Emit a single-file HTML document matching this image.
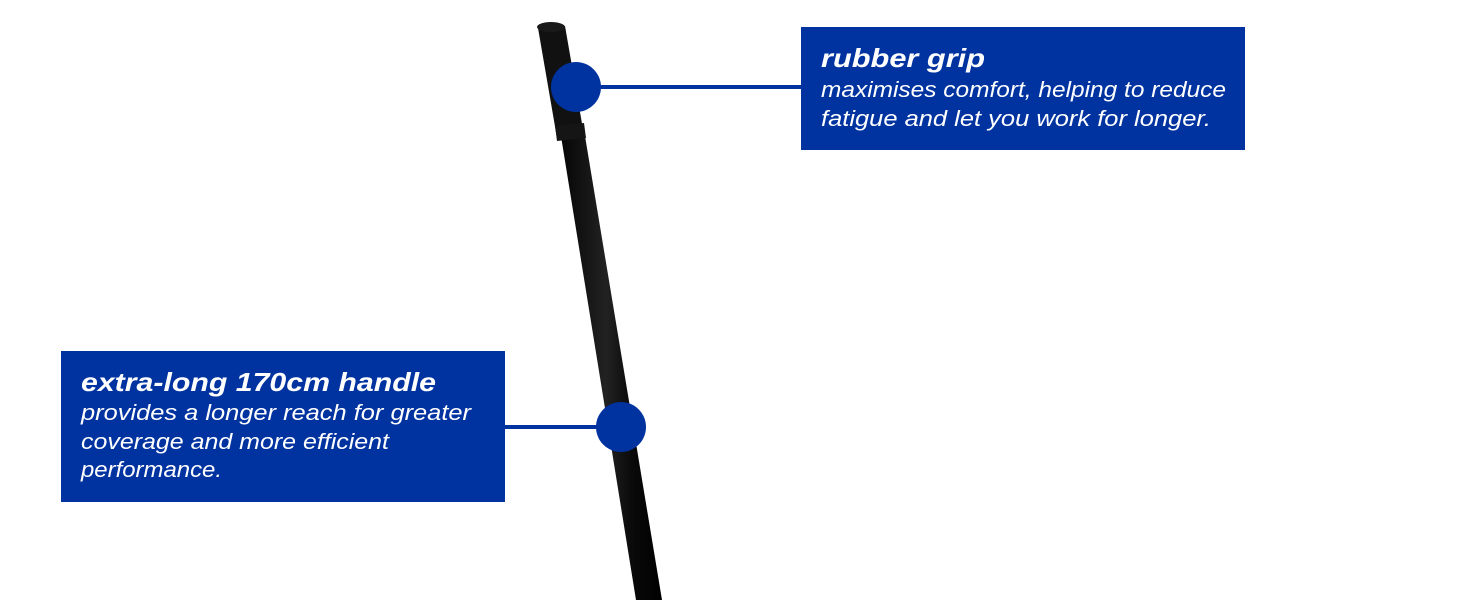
<!DOCTYPE html>
<html><head><style>html,body{margin:0;padding:0;background:#fff;}svg{display:block}</style></head>
<body>
<svg width="1464" height="600" viewBox="0 0 1464 600" xmlns="http://www.w3.org/2000/svg">
<defs>
<linearGradient id="pg" x1="0" x2="1" y1="0" y2="0">
<stop offset="0" stop-color="#050505"/><stop offset="0.45" stop-color="#222"/><stop offset="0.7" stop-color="#0a0a0a"/><stop offset="1" stop-color="#000"/>
</linearGradient>
</defs>
<!-- pole -->
<polygon points="560,130 584,130 662,600 636,600" fill="url(#pg)"/>
<!-- grip -->
<polygon points="538,28 565,26 584,135 557,138" fill="#111"/>
<ellipse cx="551" cy="27" rx="14" ry="5" fill="#1a1a1a"/>
<polygon points="555,126 584,123 586,138 557,141" fill="#151515"/>
<!-- connectors -->
<rect x="598" y="85" width="204" height="4" fill="#0033a0"/>
<circle cx="576" cy="87" r="25" fill="#0033a0"/>
<rect x="504" y="425" width="100" height="4" fill="#0033a0"/>
<circle cx="621" cy="427" r="25" fill="#0033a0"/>
<!-- boxes -->
<rect x="801" y="27" width="444" height="123" fill="#0033a0"/>
<rect x="61" y="351" width="444" height="151" fill="#0033a0"/>
<g fill="#fff" font-family="Liberation Sans, sans-serif" font-style="italic">
<text x="821" y="67" font-size="26" font-weight="bold" textLength="164" lengthAdjust="spacingAndGlyphs">rubber grip</text>
<text x="821" y="97" font-size="22" textLength="405" lengthAdjust="spacingAndGlyphs">maximises comfort, helping to reduce</text>
<text x="821" y="126" font-size="22" textLength="390" lengthAdjust="spacingAndGlyphs">fatigue and let you work for longer.</text>
<text x="81" y="391" font-size="26" font-weight="bold" textLength="355" lengthAdjust="spacingAndGlyphs">extra-long 170cm handle</text>
<text x="81" y="420" font-size="22" textLength="390" lengthAdjust="spacingAndGlyphs">provides a longer reach for greater</text>
<text x="81" y="449" font-size="22" textLength="308" lengthAdjust="spacingAndGlyphs">coverage and more efficient</text>
<text x="81" y="477" font-size="22" textLength="141" lengthAdjust="spacingAndGlyphs">performance.</text>
</g>
</svg>
</body></html>
